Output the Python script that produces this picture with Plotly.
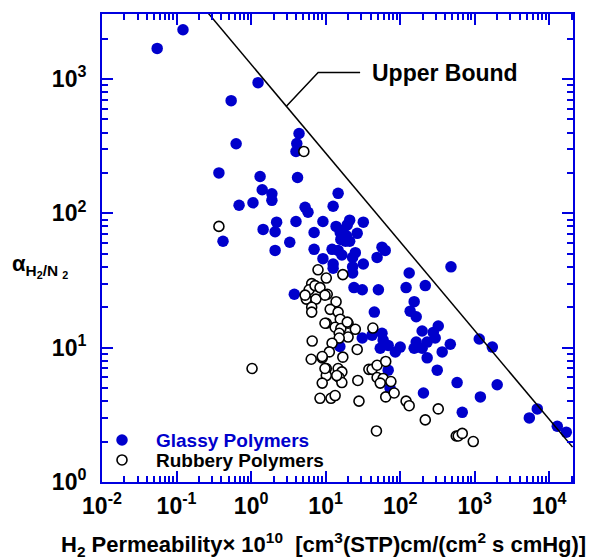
import plotly.graph_objects as go
import numpy as np

# ---------------- data ----------------
glassy_x = [0.055, 0.122, 1.24, 0.54, 0.63, 0.37, 1.32, 1.41, 1.9, 1.9, 1.06, 0.69, 4.0, 2.2, 1.45, 2.1,
            0.42, 3.3, 2.1, 4.4, 4.1, 4.0, 4.2, 5.3, 5.8, 14.7, 12.6, 9.2, 13.8, 21, 32, 19.5, 7.0, 15.7,
            26.5, 16, 18.5, 21, 7.0, 12.2, 14.7, 16.5, 25, 57, 63, 49, 9.2, 23, 12.6, 32, 12.6, 23, 23, 24,
            3.8, 31, 51, 480, 132, 120, 217, 154, 136, 164, 45, 197, 324, 278, 295, 230, 164, 154, 197, 100,
            470, 366, 230, 314, 1150, 1720, 580, 2000, 205, 31, 42, 57, 59, 54, 69, 86, 15.5, 69, 73, 680,
            1190, 5400, 6900, 12800, 16900, 17, 19]
glassy_y = [1690, 2330, 940, 690, 330, 200, 188, 150, 140, 125, 120, 115, 87, 86, 76, 73,
            62, 61, 53, 393, 331, 289, 185, 111, 102, 141, 113, 87, 80, 89, 86, 82, 72, 72,
            71, 64, 62, 62, 54, 54, 53, 49, 51, 56, 53, 47, 46, 47, 42, 42, 39, 40, 36, 28,
            25, 27, 27, 40, 36, 28, 29, 22, 18.7, 17, 18.4, 13.3, 14.5, 13, 11.8, 11, 11, 9.9, 9.9, 10.1,
            10.6, 9.3, 8.4, 6.8, 11.6, 10.1, 5.5, 5.3, 4.6, 11.8, 12.4, 12.8, 11.4, 9.9, 10.4, 9.3, 10.2, 6.8, 5.0, 3.3,
            4.3, 3.0, 3.5, 2.6, 2.35, 75, 68]

rubbery_x = [5.1, 0.37, 1.03, 7.9, 10.2, 17, 6.5, 6.0, 7.2, 8.4, 10.5, 5.5, 7.4, 13.8, 6.5, 6.5, 11.5,
             14.7, 15.7, 10.2, 20, 13.4, 16, 25, 15.2, 43, 20, 15.2, 6.6, 12.2, 26.5, 11.2, 9.0, 6.4, 17,
             10.2, 14.7, 16.5, 10.2, 15.2, 9.0, 16.5, 27, 8.4, 11.8, 13.4, 28, 38, 42, 49, 64, 49, 59, 54,
             75, 64, 83, 120, 132, 324, 217, 48, 565, 600, 680, 955, 5.3, 9.8, 9.8, 19.5, 9.0, 9.8, 14.1]
rubbery_y = [289, 80, 7.0, 38, 33, 35, 30, 27, 29, 28, 25, 23, 23, 22, 20, 18.4, 19.3,
             18.4, 16.3, 15.2, 15.2, 14.2, 13.9, 13.7, 12.8, 14, 12, 11.8, 11.2, 10.8, 9.7, 9.3, 8.4, 8.2, 8.5,
             7.0, 7.0, 6.6, 6.2, 6.0, 5.45, 5.5, 5.7, 4.2, 4.2, 4.4, 4.0, 6.9, 6.9, 7.4, 7.9, 6.0, 5.9, 5.45,
             5.6, 4.3, 4.6, 4.0, 3.7, 3.5, 2.9, 2.4, 2.2, 2.2, 2.3, 2.0, 24.6, 24.6, 15.2, 15.5, 8.6, 7.0, 6.2]

bound_x = [0.265, 20500]
bound_y = [3100, 1.82]

leader_x = [2.95, 7.93, 29.0]
leader_y = [625, 1117, 1117]

x_tickvals = [1e-2, 1e-1, 1e0, 1e1, 1e2, 1e3, 1e4]
x_ticktext = ["10<sup>-2</sup>", "10<sup>-1</sup>", "10<sup>0</sup>", "10<sup>1</sup>",
              "10<sup>2</sup>", "10<sup>3</sup>", "10<sup>4</sup>"]
y_tickvals = [1, 10, 100, 1000]
y_ticktext = ["10<sup>0</sup>", "10<sup>1</sup>", "10<sup>2</sup>", "10<sup>3</sup>"]

BLUE = "#0000CC"
AXBLUE = "#0000E0"
FONT = "Liberation Sans"

# plot-area geometry in pixels (for placing paper-referenced texts)
L, R, T, B = 102, 573, 12, 482
W, H = R - L, B - T


def px(xp):
    return (xp - L) / W


def py(yp):
    return (B - yp) / H


fig = go.Figure()
fig.add_trace(go.Scatter(
    x=glassy_x, y=glassy_y, mode="markers", name="Glassy Polymers", legend="legend",
    marker=dict(size=11.5, color=BLUE, line=dict(width=0))))
fig.add_trace(go.Scatter(
    x=rubbery_x, y=rubbery_y, mode="markers", name="Rubbery Polymers", legend="legend2",
    marker=dict(size=10, color="white", line=dict(width=1.6, color="black"))))
fig.add_trace(go.Scatter(
    x=bound_x, y=bound_y, mode="lines", showlegend=False,
    line=dict(color="black", width=1.5)))
fig.add_trace(go.Scatter(
    x=leader_x, y=leader_y, mode="lines", showlegend=False,
    line=dict(color="black", width=1.5)))

minor_x = [m * 10.0 ** e for e in range(-2, 5) for m in range(2, 10)]
minor_y = [m * 10.0 ** e for e in range(0, 4) for m in range(2, 10)]

axis_common = dict(
    type="log", showgrid=False, zeroline=False,
    showline=True, linecolor=AXBLUE, linewidth=2, mirror="allticks",
    ticks="inside", ticklen=11, tickwidth=1.5, tickcolor=AXBLUE,
    tickfont=dict(family=FONT, size=23, color="black", weight="bold"),
)

fig.update_xaxes(range=[-2, np.log10(20800)], tickmode="array",
                 tickvals=x_tickvals, ticktext=x_ticktext, ticklabelstandoff=2,
                 minor=dict(tickmode="array", tickvals=minor_x, ticks="inside",
                            ticklen=6, tickwidth=1.5, tickcolor=AXBLUE),
                 **axis_common)
fig.update_yaxes(range=[0, np.log10(3050)], tickmode="array",
                 tickvals=y_tickvals, ticktext=y_ticktext, ticklabelstandoff=9,
                 minor=dict(tickmode="array", tickvals=minor_y, ticks="inside",
                            ticklen=6, tickwidth=1.5, tickcolor=AXBLUE),
                 **axis_common)

fig.add_annotation(x=np.log10(29.0), y=np.log10(1117), xref="x", yref="y",
                   text="Upper Bound", showarrow=False, xanchor="left", xshift=10,
                   font=dict(family=FONT, size=23, color="black", weight="bold"))

fig.add_annotation(x=px(323), y=py(545), xref="paper", yref="paper",
                   text="H<sub>2</sub> Permeability× 10<sup>10</sup>  [cm<sup>3</sup>(STP)cm/(cm<sup>2</sup> s cmHg)]",
                   showarrow=False, xanchor="center", yanchor="middle",
                   font=dict(family=FONT, size=22, color="black", weight="bold"))

fig.add_annotation(x=px(10), y=py(265), xref="paper", yref="paper",
                   text="α<sub>H<sub>2</sub>/N <sub>2</sub></sub>",
                   showarrow=False, xanchor="left", yanchor="middle",
                   font=dict(family=FONT, size=22, color="black", weight="bold"))

leg_common = dict(xanchor="left", yanchor="middle", bgcolor="rgba(0,0,0,0)",
                  itemwidth=58, borderwidth=0)
fig.update_layout(
    width=602, height=560,
    margin=dict(l=L, r=602 - R, t=T, b=560 - B),
    paper_bgcolor="white", plot_bgcolor="white",
    showlegend=True,
    legend=dict(x=px(88), y=py(440),
                font=dict(family=FONT, size=19, color=BLUE, weight="bold"), **leg_common),
    legend2=dict(x=px(88), y=py(460),
                 font=dict(family=FONT, size=19, color="black", weight="bold"), **leg_common),
)

fig.write_html("out.html")
